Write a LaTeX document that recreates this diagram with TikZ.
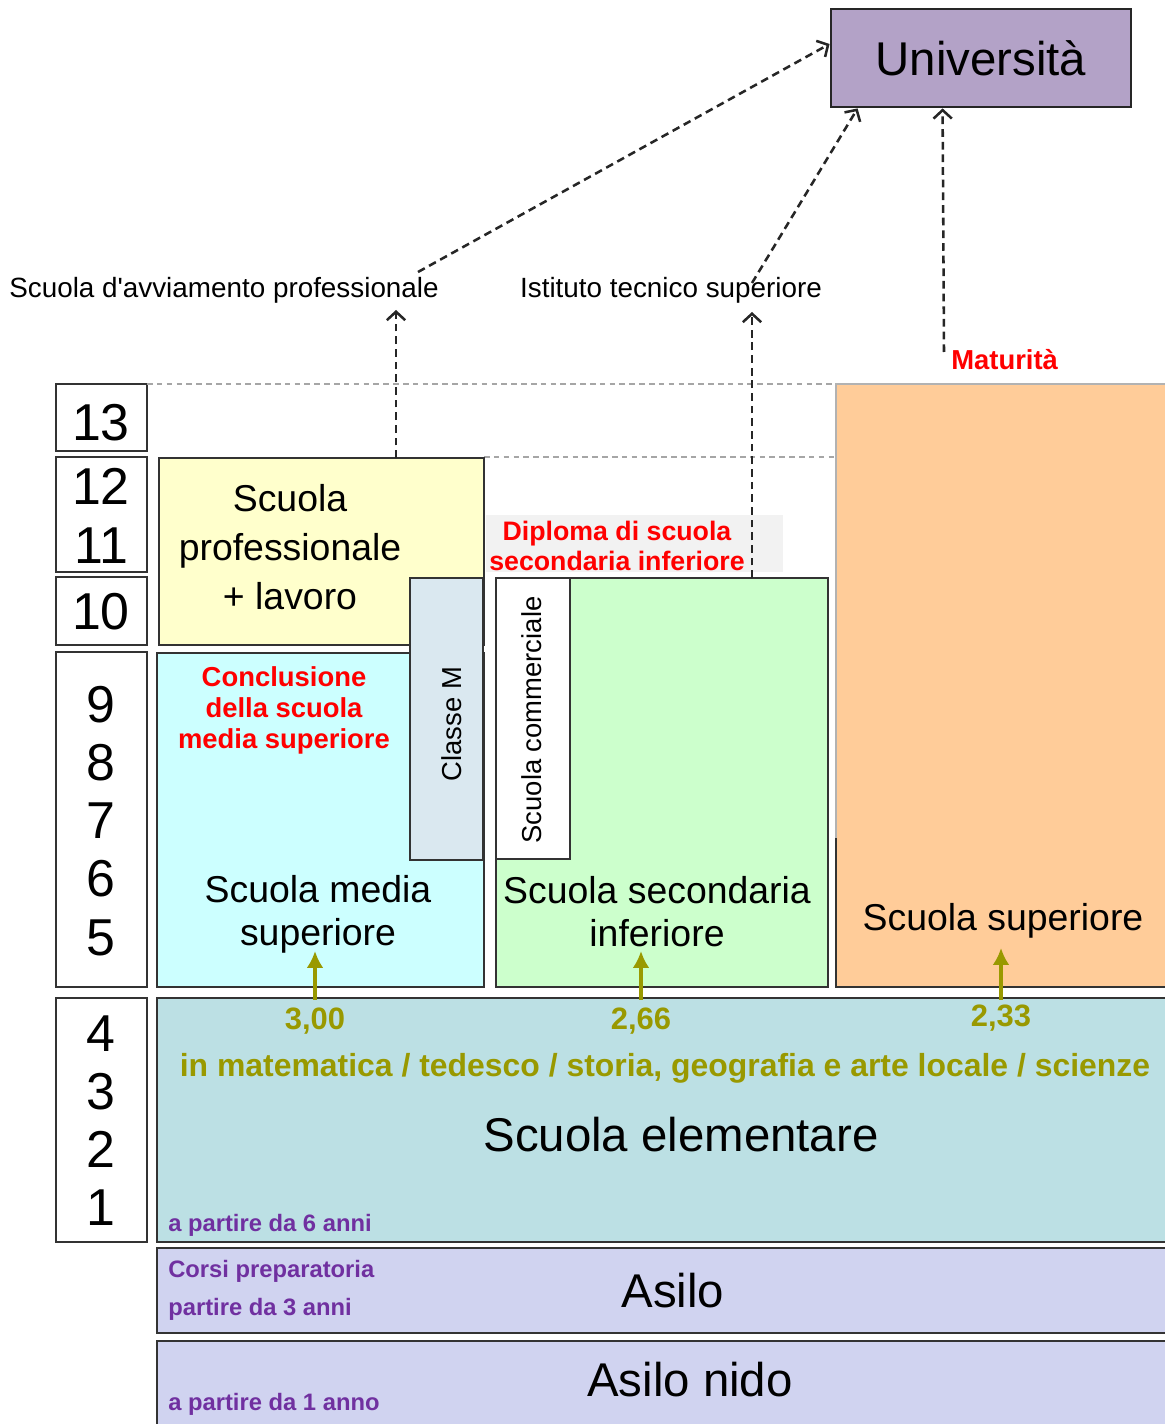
\documentclass[tikz,border=0pt]{standalone}
\usepackage{fontspec}
\setmainfont{Liberation Sans}
\usepackage{tikz}
\usetikzlibrary{positioning,arrows.meta}

\definecolor{unifill}{HTML}{B3A2C7}
\definecolor{yelfill}{HTML}{FFFFCC}
\definecolor{cyanfill}{HTML}{CCFFFF}
\definecolor{mfill}{HTML}{DAE8F0}
\definecolor{greenfill}{HTML}{CCFFCC}
\definecolor{orangefill}{HTML}{FFCC99}
\definecolor{elemfill}{HTML}{BCE0E4}
\definecolor{asilofill}{HTML}{D0D3F0}
\definecolor{olive}{HTML}{999900}
\definecolor{viola}{HTML}{7030A0}
\definecolor{rosso}{HTML}{FF0000}

\begin{document}
\begin{tikzpicture}[x=0.025cm,y=-0.025cm,
    box/.style={draw=black!80,line width=2pt},
    txt/.style={inner sep=0pt,align=center},
    big/.style={txt,font=\fontsize{33.7}{40}\selectfont},
    body/.style={txt,font=\fontsize{26.6}{30.5}\selectfont},
    num/.style={txt,font=\fontsize{36.9}{41.3}\selectfont},
    redlab/.style={txt,text=rosso,font=\bfseries\fontsize{19.5}{22}\selectfont},
    toplab/.style={txt,font=\fontsize{19.8}{24}\selectfont},
    purplab/.style={inner sep=0pt,anchor=west,text=viola,font=\bfseries\fontsize{16.9}{20}\selectfont},
    olivelab/.style={txt,text=olive,font=\bfseries\fontsize{22}{26}\selectfont},
    dasharrow/.style={line width=1.8pt,black!85,dash pattern=on 5.5pt off 3.5pt,
        -{Straight Barb[length=6pt,width=13pt,line width=1.8pt]}},
    olivearrow/.style={line width=2.8pt,olive,-{Latex[length=12pt,width=12pt]}}]
    \useasboundingbox (0,0) rectangle (1164,1424);

    % anni scolastici
    \draw[box,fill=white] (56,384) rectangle (147,451);
    \draw[box,fill=white] (56,457) rectangle (147,572);
    \draw[box,fill=white] (56,577) rectangle (147,645);
    \draw[box,fill=white] (56,652) rectangle (147,987);
    \draw[box,fill=white] (56,998) rectangle (147,1242);
    \node[num] (n13) at (101,423) {13};
    \node[num,font=\fontsize{36.9}{41.8}\selectfont] (n1211) at (101,516) {12\\11};
    \node[num] (n10) at (101,612) {10};
    \node[num] (n95) at (101,821) {9\\8\\7\\6\\5};
    \node[num] (n41) at (101,1121) {4\\3\\2\\1};

    % linee tratteggiate orizzontali
    \draw[gray!70,line width=1.2pt,dash pattern=on 4pt off 3pt] (147,384) -- (836,384);
    \draw[gray!70,line width=1.2pt,dash pattern=on 4pt off 3pt] (484,457) -- (836,457);

    % scuole
    \draw[box,fill=yelfill] (159,458) rectangle (484,645);
    \draw[box,fill=cyanfill] (157,653) rectangle (484,987);
    \draw[box,fill=mfill] (410,578) rectangle (483,860);
    \fill[gray!10] (486,515) rectangle (783,572);
    \draw[box,fill=greenfill] (496,578) rectangle (828,987);
    \draw[box,fill=white] (496,578) rectangle (570,859);
    \fill[orangefill] (836,384) rectangle (1170,987);
    \draw[gray!60,line width=1pt] (836,838) |- (1170,384);
    \draw[box] (836,838) |- (1170,987);
    \draw[box,fill=elemfill] (157,998) rectangle (1170,1242);
    \draw[box,fill=asilofill] (157,1248) rectangle (1170,1333);
    \draw[box,fill=asilofill] (157,1341) rectangle (1170,1430);

    \node[body,font=\fontsize{26.6}{34.7}\selectfont] (prof) at (290,547) {Scuola\\professionale\\+ lavoro};
    \node[redlab] (concl) at (284,710) {Conclusione\\della scuola\\media superiore};
    \node[body] (media) at (318,914) {Scuola media\\superiore};
    \node[body,font=\fontsize{19.5}{24}\selectfont,rotate=90] (classem) at (452,724) {Classe M};
    \node[body,font=\fontsize{19.5}{24}\selectfont,rotate=90] (comm) at (532,720) {Scuola commerciale};
    \node[redlab,font=\bfseries\fontsize{19}{21.3}\selectfont] (dipl) at (617,546) {Diploma di scuola\\secondaria inferiore};
    \node[body] (second) at (657,912) {Scuola secondaria\\inferiore};
    \node[body] (super) at (1003,921) {Scuola superiore};
    \node[redlab,anchor=west] (matur) at (951,360) {Maturità};

    % elementare e asilo
    \node[olivelab] (v300) at (315,1021) {3,00};
    \node[olivelab] (v266) at (641,1021) {2,66};
    \node[olivelab] (v233) at (1001,1018) {2,33};
    \node[olivelab,font=\bfseries\fontsize{22.7}{26}\selectfont] (materie) at (665,1068) {in matematica / tedesco / storia, geografia e arte locale / scienze};
    \node[big] (elem) at (681,1135) {Scuola elementare};
    \node[purplab] (p6) at (168,1225) {a partire da 6 anni};
    \node[big] (asilo) at (673,1291) {Asilo};
    \node[purplab] (corsi) at (168,1271) {Corsi preparatoria};
    \node[purplab] (p3) at (168,1309) {partire da 3 anni};
    \node[big] (nido) at (690,1380) {Asilo nido};
    \node[purplab] (p1) at (168,1404) {a partire da 1 anno};

    \draw[olivearrow] (v300.north) ++(0,-8) coordinate (o1) -- (315,951);
    \draw[olivearrow] (v266.north) ++(0,-8) coordinate (o2) -- (641,951);
    \draw[olivearrow] (v233.north) ++(0,-5) coordinate (o3) -- (1001,948);

    % universita e percorsi
    \node[draw=black!85,line width=2pt,fill=unifill,minimum width=7.5cm,minimum height=2.45cm,
        font=\fontsize{33.7}{40}\selectfont] (uni) at (981,58) {Università};
    \node[toplab] (avv) at (224,290) {Scuola d\textquotesingle avviamento professionale};
    \node[toplab] (ist) at (671,290) {Istituto tecnico superiore};

    \coordinate (yeltop) at (396,458);
    \coordinate (avvsotto) at (396,310);
    \coordinate (avvfine) at (418,272);
    \coordinate (greentop) at (752,578);
    \coordinate (istsotto) at (752,312);
    \coordinate (istfine) at (752,283);
    \coordinate (maturtop) at (944,352);

    \draw[dasharrow] (yeltop) -- (avvsotto);
    \draw[dasharrow] (avvfine) -- ([yshift=0.35cm]uni.west);
    \draw[dasharrow] (greentop) -- (istsotto);
    \draw[dasharrow] (istfine) -- ([xshift=0.7cm]uni.south west);
    \draw[dasharrow] (maturtop) -- ([xshift=2.825cm]uni.south west);
\end{tikzpicture}
\end{document}
